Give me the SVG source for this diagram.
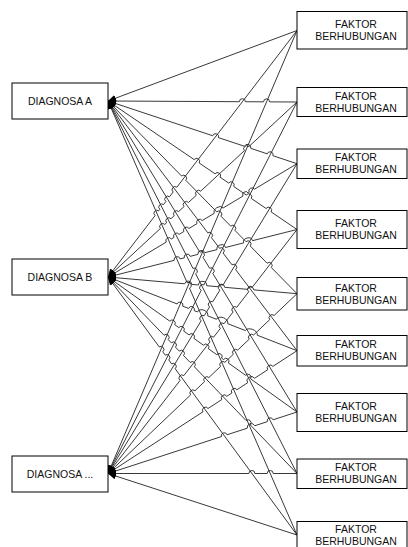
<svg xmlns="http://www.w3.org/2000/svg" width="408" height="547" viewBox="0 0 408 547">
<defs>
<style>
.box{fill:#fff;stroke:#000;stroke-width:1}
.t{font-family:"Liberation Sans",Arial,sans-serif;font-size:10.5px;fill:#111;text-anchor:middle}
.c{fill:none;stroke:#222;stroke-width:0.9;marker-end:url(#ah)}
</style>
<marker id="ah" markerUnits="userSpaceOnUse" markerWidth="8" markerHeight="7" refX="7" refY="3" orient="auto" viewBox="0 0 7 6">
<path d="M0,0 L7,3 L0,6 z" fill="#000"/>
</marker>
</defs>
<rect width="408" height="547" fill="#fff"/>
<g id="connectors">
<path class="c" d="M297,30.5 L108,101"/>
<path class="c" d="M297,102 L269.6,101.86 A3,3 0 0 0 263.6,101.82 L245.4,101.73 A3,3 0 0 0 239.4,101.7 L108,101"/>
<path class="c" d="M297,163.7 L272.95,155.72 A3,3 0 0 0 267.25,153.83 L250.75,148.36 A3.4,3.4 0 0 0 244.35,146.23 L218.45,137.64 A3,3 0 0 0 212.75,135.75 L108,101"/>
<path class="c" d="M297,229.5 L271.08,211.88 A3,3 0 0 0 266.12,208.5 L251.28,198.41 A3,3 0 0 0 246.32,195.04 L233.68,186.45 A3,3 0 0 0 228.72,183.08 L220.08,177.2 A3,3 0 0 0 215.12,173.83 L199.18,162.99 A3,3 0 0 0 194.22,159.62 L108,101"/>
<path class="c" d="M297,293.7 L271.3,267.5 A3,3 0 0 0 267.1,263.22 L250.2,245.98 A3,3 0 0 0 246,241.7 L234.9,230.38 A3,3 0 0 0 230.7,226.1 L220.9,216.11 A3,3 0 0 0 216.7,211.83 L185.8,180.32 A3,3 0 0 0 181.6,176.04 L108,101"/>
<path class="c" d="M297,350.7 L235.61,269.59 A3,3 0 0 0 231.99,264.81 L223.11,253.08 A3,3 0 0 0 219.49,248.3 L211.41,237.62 A3,3 0 0 0 207.79,232.84 L108,101"/>
<path class="c" d="M297,412 L212.76,273.38 A3,3 0 0 0 209.64,268.25 L202.96,257.26 A3,3 0 0 0 199.84,252.12 L108,101"/>
<path class="c" d="M297,473.5 L195.66,273.77 A3,3 0 0 0 192.94,268.41 L108,101"/>
<path class="c" d="M297,535 L189.5,288.15 A3,3 0 0 0 187.1,282.64 L108,101"/>
<path class="c" d="M297,30.5 L176.83,187.23 A3,3 0 0 0 173.18,191.99 L169.53,196.75 A3,3 0 0 0 165.88,201.51 L163.53,204.58 A3,3 0 0 0 159.88,209.34 L158.73,210.84 A3,3 0 0 0 155.08,215.6 L108,277"/>
<path class="c" d="M297,102 L248.8,146.63 A3,3 0 0 0 244.4,150.7 L200.7,191.17 A3,3 0 0 0 196.3,195.24 L188.5,202.46 A3,3 0 0 0 184.1,206.54 L178.6,211.63 A3,3 0 0 0 174.2,215.7 L171,218.67 A3,3 0 0 0 166.6,222.74 L164.8,224.41 A3,3 0 0 0 160.4,228.48 L108,277"/>
<path class="c" d="M297,163.7 L254.37,189.26 A3,3 0 0 0 249.23,192.34 L248.17,192.97 A3,3 0 0 0 243.03,196.05 L223.17,207.96 A5.3,4 -30.9 0 0 214.13,213.38 L202.17,220.55 A3,3 0 0 0 197.03,223.63 L188.97,228.46 A3,3 0 0 0 183.83,231.54 L179.07,234.4 A3,3 0 0 0 173.93,237.48 L171.37,239.01 A3,3 0 0 0 166.23,242.09 L108,277"/>
<path class="c" d="M297,229.5 L252.51,240.68 A4.6,4 -14.1 0 0 243.59,242.92 L225.51,247.47 A4.4,4 -14.1 0 0 216.99,249.61 L204.81,252.67 A3.6,3.6 -14.1 0 0 197.89,254.41 L190.11,256.36 A3,3 0 0 0 184.29,257.83 L180.01,258.9 A3,3 0 0 0 174.19,260.36 L108,277"/>
<path class="c" d="M297,293.7 L253.79,289.88 A3.2,3.2 5 0 0 247.51,289.33 L224.69,287.31 A3.4,3.4 5 0 0 218.01,286.72 L206.69,285.72 A4.1,4 5 0 0 198.51,285 L191.79,284.4 A3.6,3.6 5 0 0 184.71,283.78 L108,277"/>
<path class="c" d="M297,350.7 L257.3,335.22 A6.4,4 21.3 0 0 245.41,330.58 L227.7,323.68 A6,4 21.3 0 0 216.51,319.31 L207.6,315.84 A5.4,4 21.3 0 0 197.51,311.9 L194.2,310.61 A3,3 0 0 0 188.61,308.43 L182.7,306.13 A3,3 0 0 0 177.11,303.95 L108,277"/>
<path class="c" d="M297,412 L250.54,378.81 A3,3 0 0 0 245.66,375.33 L228.44,363.03 A3,3 0 0 0 223.56,359.54 L221.64,358.17 A3,3 0 0 0 216.76,354.69 L208.44,348.74 A3,3 0 0 0 203.56,345.26 L193.94,338.39 A3,3 0 0 0 189.06,334.9 L183.74,331.1 A3,3 0 0 0 178.86,327.61 L174.74,324.67 A3,3 0 0 0 169.86,321.19 L108,277"/>
<path class="c" d="M297,473.5 L250.18,424.82 A3,3 0 0 0 246.02,420.5 L194.38,366.81 A3,3 0 0 0 190.22,362.48 L183.48,355.48 A3,3 0 0 0 179.32,351.15 L175.48,347.16 A3,3 0 0 0 171.32,342.83 L168.18,339.57 A3,3 0 0 0 164.02,335.24 L108,277"/>
<path class="c" d="M297,535 L175.17,368.69 A3,3 0 0 0 171.63,363.86 L168.77,359.96 A3,3 0 0 0 165.23,355.12 L162.77,351.77 A3,3 0 0 0 159.23,346.93 L108,277"/>
<path class="c" d="M297,30.5 L108,473.5"/>
<path class="c" d="M297,102 L203.96,284.88 A3,3 0 0 0 201.24,290.23 L108,473.5"/>
<path class="c" d="M297,163.7 L222.96,285.06 A3,3 0 0 0 219.84,290.18 L212.76,301.78 A3,3 0 0 0 209.64,306.9 L204.26,315.71 A3,3 0 0 0 201.14,320.83 L108,473.5"/>
<path class="c" d="M297,229.5 L252.44,287.03 A3,3 0 0 0 248.76,291.78 L236.74,307.3 A3,3 0 0 0 233.06,312.05 L224.04,323.69 A3,3 0 0 0 220.36,328.44 L213.64,337.12 A3,3 0 0 0 209.96,341.87 L183.84,375.59 A3,3 0 0 0 180.16,380.34 L108,473.5"/>
<path class="c" d="M297,293.7 L274.07,315.51 A3,3 0 0 0 269.73,319.64 L253.57,335.02 A3,3 0 0 0 249.23,339.15 L237.67,350.14 A3,3 0 0 0 233.33,354.27 L224.87,362.32 A3,3 0 0 0 220.53,366.45 L208.87,377.54 A3,3 0 0 0 204.53,381.67 L194.97,390.76 A3,3 0 0 0 190.63,394.89 L108,473.5"/>
<path class="c" d="M297,350.7 L272.82,366.41 A3,3 0 0 0 267.78,369.69 L254.62,378.24 A4.2,4 -33 0 0 247.58,382.81 L236.92,389.74 A3,3 0 0 0 231.88,393.01 L226.82,396.3 A3,3 0 0 0 221.78,399.57 L208.02,408.51 A3,3 0 0 0 202.98,411.79 L108,473.5"/>
<path class="c" d="M297,412 L273.05,419.79 A3,3 0 0 0 267.35,421.65 L254.75,425.75 A4,4 -18 0 0 247.25,428.19 L227.05,434.76 A3,3 0 0 0 221.35,436.62 L108,473.5"/>
<path class="c" d="M297,473.5 L273.2,473.5 A3,3 0 0 0 267.2,473.5 L254.9,473.5 A3,3 0 0 0 248.9,473.5 L108,473.5"/>
<path class="c" d="M297,535 L108,473.5"/>
</g>
<g id="diagnosa-a"><rect class="box" x="12" y="83" width="96" height="36"/><text class="t" x="60" y="104.8">DIAGNOSA A</text></g>
<g id="diagnosa-b"><rect class="box" x="12" y="259" width="96" height="36"/><text class="t" x="60" y="280.8">DIAGNOSA B</text></g>
<g id="diagnosa-c"><rect class="box" x="12" y="456" width="96" height="36"/><text class="t" x="60" y="477.8">DIAGNOSA ...</text></g>
<g id="faktor-1"><rect class="box" x="297" y="11.5" width="110" height="37.5"/><text class="t" x="356" y="27.8">FAKTOR</text><text class="t" x="356" y="39.8">BERHUBUNGAN</text></g>
<g id="faktor-2"><rect class="box" x="297" y="87.5" width="110" height="29"/><text class="t" x="356" y="99.8">FAKTOR</text><text class="t" x="356" y="111.8">BERHUBUNGAN</text></g>
<g id="faktor-3"><rect class="box" x="297" y="149" width="110" height="29.5"/><text class="t" x="356" y="161.3">FAKTOR</text><text class="t" x="356" y="173.3">BERHUBUNGAN</text></g>
<g id="faktor-4"><rect class="box" x="297" y="210.5" width="110" height="38"/><text class="t" x="356" y="226.8">FAKTOR</text><text class="t" x="356" y="239.3">BERHUBUNGAN</text></g>
<g id="faktor-5"><rect class="box" x="297" y="277.5" width="110" height="32.5"/><text class="t" x="356" y="291.8">FAKTOR</text><text class="t" x="356" y="303.8">BERHUBUNGAN</text></g>
<g id="faktor-6"><rect class="box" x="297" y="335.5" width="110" height="30.5"/><text class="t" x="356" y="347.8">FAKTOR</text><text class="t" x="356" y="359.8">BERHUBUNGAN</text></g>
<g id="faktor-7"><rect class="box" x="297" y="393.5" width="110" height="38"/><text class="t" x="356" y="409.8">FAKTOR</text><text class="t" x="356" y="421.8">BERHUBUNGAN</text></g>
<g id="faktor-8"><rect class="box" x="297" y="459" width="110" height="29.5"/><text class="t" x="356" y="471.3">FAKTOR</text><text class="t" x="356" y="483.3">BERHUBUNGAN</text></g>
<g id="faktor-9"><rect class="box" x="297" y="521.5" width="110" height="30"/><text class="t" x="356" y="532.8">FAKTOR</text><text class="t" x="356" y="544.8">BERHUBUNGAN</text></g>
</svg>
